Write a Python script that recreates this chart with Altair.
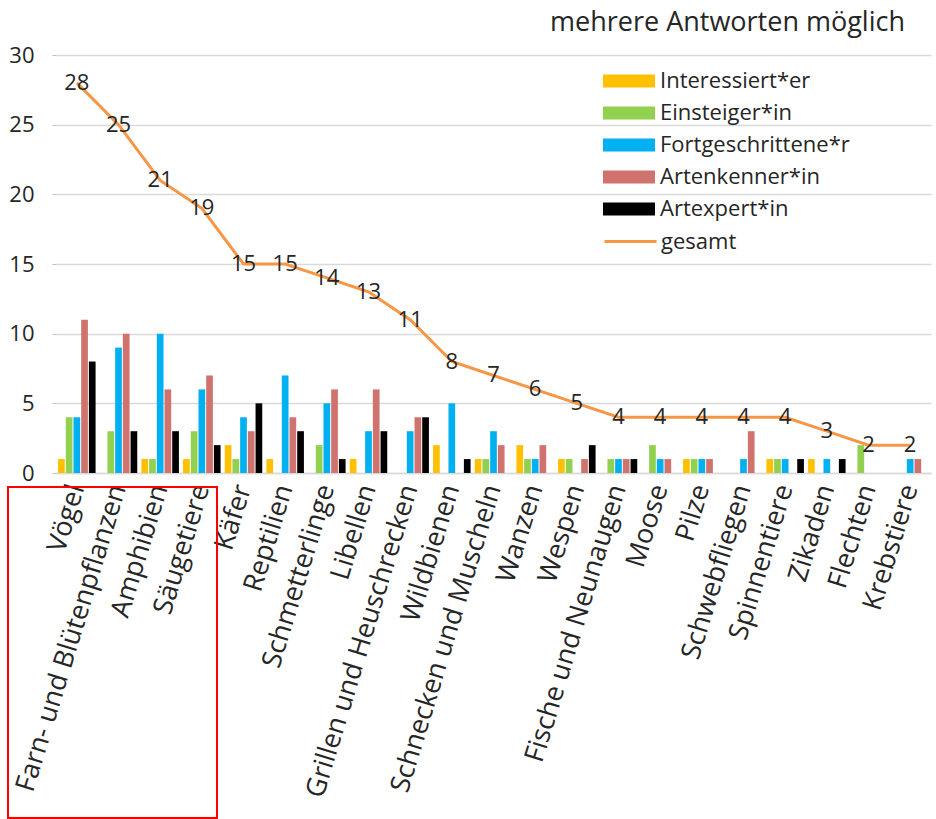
import altair as alt
import pandas as pd

# Artengruppen und Antworten je Erfahrungsstufe
categories = [
    "Vögel", "Farn- und Blütenpflanzen", "Amphibien", "Säugetiere", "Käfer",
    "Reptilien", "Schmetterlinge", "Libellen", "Grillen und Heuschrecken",
    "Wildbienen", "Schnecken und Muscheln", "Wanzen", "Wespen",
    "Fische und Neunaugen", "Moose", "Pilze", "Schwebfliegen", "Spinnentiere",
    "Zikaden", "Flechten", "Krebstiere",
]
groups = ["Interessiert*er", "Einsteiger*in", "Fortgeschrittene*r", "Artenkenner*in", "Artexpert*in"]
colors = ["#FFC000", "#92D050", "#00B0F0", "#D0736F", "#000000"]

interessiert = [1, 0, 1, 1, 2, 1, 0, 1, 0, 2, 1, 2, 1, 0, 0, 1, 0, 1, 1, 0, 0]
einsteiger = [4, 3, 1, 3, 1, 0, 2, 0, 0, 0, 1, 1, 1, 1, 2, 1, 0, 1, 0, 2, 0]
fortgeschritten = [4, 9, 10, 6, 4, 7, 5, 3, 3, 5, 3, 1, 0, 1, 1, 1, 1, 1, 1, 0, 1]
artenkenner = [11, 10, 6, 7, 3, 4, 6, 6, 4, 0, 2, 2, 1, 1, 1, 1, 3, 0, 0, 0, 1]
artexperte = [8, 3, 3, 2, 5, 3, 1, 3, 4, 1, 0, 0, 2, 1, 0, 0, 0, 1, 1, 0, 0]
gesamt = [28, 25, 21, 19, 15, 15, 14, 13, 11, 8, 7, 6, 5, 4, 4, 4, 4, 4, 3, 2, 2]

FONT = "Open Sans"
TEXT = "#262626"

rows = []
for g, vals in zip(groups, [interessiert, einsteiger, fortgeschritten, artenkenner, artexperte]):
    for c, v in zip(categories, vals):
        if v > 0:
            rows.append({"cat": c, "group": g, "value": v})
bars_df = pd.DataFrame(rows)
total_df = pd.DataFrame({"cat": categories, "total": gesamt, "series": "gesamt"})

x_enc = alt.X(
    "cat:N", sort=categories, title=None,
    scale=alt.Scale(paddingInner=0.1, paddingOuter=0.05),
    axis=alt.Axis(labelAngle=-73, labelFontSize=27, labelFont=FONT, labelColor=TEXT,
                  labelPadding=12, ticks=False, domainColor="#d9d9d9", domainWidth=1.5,
                  labelLimit=400, labelOverlap=False),
)
y_scale = alt.Scale(domain=[0, 30])

# Legendensymbol: breites Rechteck (52 x 13 px bei symbolSize 169)
bar_symbol = "M-4,-1H4V1H-4Z"

bars = alt.Chart(bars_df).mark_bar().encode(
    x=x_enc,
    xOffset=alt.XOffset("group:N", sort=groups, scale=alt.Scale(paddingInner=0.13)),
    y=alt.Y("value:Q", scale=y_scale, title=None,
            axis=alt.Axis(values=[0, 5, 10, 15, 20, 25, 30], labelFontSize=22, labelFont=FONT,
                          labelColor=TEXT, tickSize=4, tickColor="#bfbfbf", domain=False,
                          gridColor="#d9d9d9", gridWidth=1.5, labelPadding=18)),
    color=alt.Color(
        "group:N", sort=groups,
        scale=alt.Scale(domain=groups, range=colors),
        legend=alt.Legend(
            title=None, orient="none", legendX=562, legendY=15,
            symbolType=bar_symbol, symbolSize=169, symbolStrokeWidth=0,
            labelFontSize=22, labelFont=FONT, labelColor=TEXT, labelOffset=20,
            labelLimit=320, rowPadding=10,
        ),
    ),
)

line = alt.Chart(total_df).mark_line(strokeWidth=3).encode(
    x=alt.X("cat:N", sort=categories),
    y=alt.Y("total:Q", scale=y_scale),
    stroke=alt.Stroke(
        "series:N",
        scale=alt.Scale(domain=["gesamt"], range=["#F79646"]),
        legend=alt.Legend(
            title=None, orient="none", legendX=547, legendY=159,
            symbolType="stroke", symbolSize=2704, symbolStrokeWidth=3,
            labelFontSize=22, labelFont=FONT, labelColor=TEXT, labelOffset=3,
        ),
    ),
)

labels = alt.Chart(total_df).mark_text(
    fontSize=22, font=FONT, color=TEXT, align="center", baseline="middle"
).encode(
    x=alt.X("cat:N", sort=categories),
    y=alt.Y("total:Q", scale=y_scale),
    text=alt.Text("total:Q"),
)

# Hinweis oben rechts
note = alt.Chart(pd.DataFrame({"t": ["mehrere Antworten möglich"]})).mark_text(
    fontSize=27, font=FONT, color=TEXT, align="right", baseline="alphabetic"
).encode(x=alt.value(849), y=alt.value(-24), text="t:N")

# roter Rahmen um die ersten vier Beschriftungen
frame = alt.Chart(pd.DataFrame({"k": [1]})).mark_rect(
    fill=None, stroke="#FF0000", strokeWidth=2
).encode(x=alt.value(-48), x2=alt.value(161), y=alt.value(432), y2=alt.value(763))

chart = alt.layer(bars, line, labels, note, frame).properties(
    width=875, height=418,
    padding={"left": 56, "top": 55, "right": 5, "bottom": 346},
    autosize=alt.AutoSizeParams(type="none"),
).configure_view(stroke=None).resolve_scale(color="independent")

chart.save("out.html", embed_options={"renderer": "svg", "actions": False})
